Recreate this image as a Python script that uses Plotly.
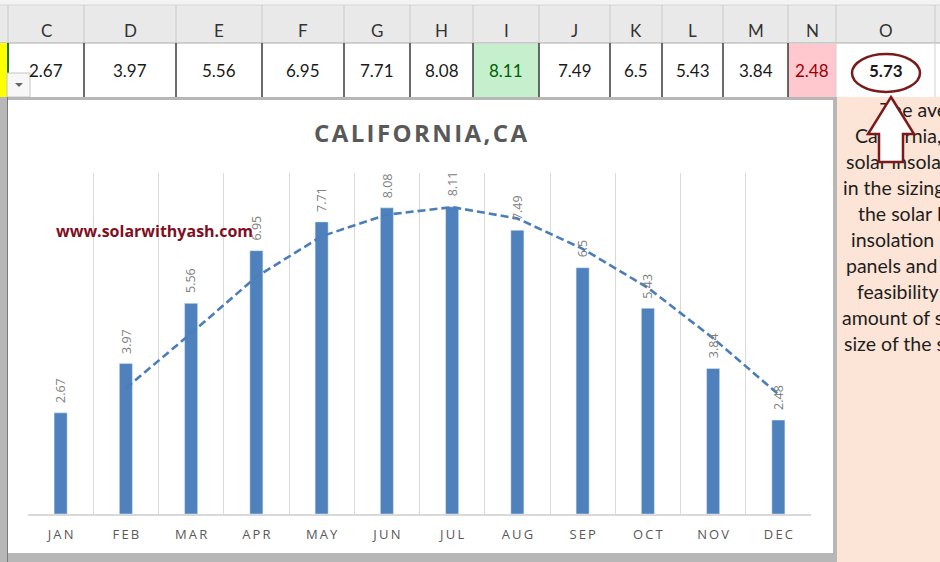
import plotly.graph_objects as go

# ---------------- data ----------------
months = ["JAN", "FEB", "MAR", "APR", "MAY", "JUN", "JUL", "AUG", "SEP", "OCT", "NOV", "DEC"]
insolation = [2.67, 3.97, 5.56, 6.95, 7.71, 8.08, 8.11, 7.49, 6.5, 5.43, 3.84, 2.48]
moving_avg = [None, 3.32, 4.77, 6.26, 7.33, 7.90, 8.10, 7.80, 7.00, 5.97, 4.64, 3.16]
col_letters = ["C", "D", "E", "F", "G", "H", "I", "J", "K", "L", "M", "N", "O"]
average_value = 5.73
note_lines = ["The average", "California, CA", "solar insolation", "in the sizing of",
              "the solar PV", "insolation map", "panels and the", "feasibility of",
              "amount of sun", "size of the system"]

# ---------------- layout helpers (pixel geometry of the screenshot) ----------------
W, H = 940, 562
def px(x):
    return x / W
def py(y):
    return 1 - y / H

col_edges = [8, 84, 176, 262, 344, 410, 473, 539, 610, 662, 723, 788, 836, 935]
note_x = [880, 855, 846, 843, 858, 851, 846, 857, 842, 844]

BAR = "#4f81bd"
fig = go.Figure()

fig.add_trace(go.Bar(x=months, y=insolation, marker_color=BAR, width=0.2,
                     hoverinfo="skip", showlegend=False))
fig.add_trace(go.Scatter(x=months, y=moving_avg, mode="lines",
                         line=dict(color="#4a7ebb", width=2.6, dash="8px,4px"),
                         connectgaps=False, hoverinfo="skip", showlegend=False))
# text in the peach panel (pixel axes so the arrow can sit on top of it)
fig.add_trace(go.Scatter(x=note_x, y=[112 + 26 * i for i in range(len(note_lines))],
                         text=note_lines, mode="text", textposition="middle right",
                         textfont=dict(family="Lato", size=19.5, color="#1e1e1e"),
                         xaxis="x2", yaxis="y2", hoverinfo="skip", showlegend=False))

shapes = []
def rect(x0, y0, x1, y1, fill, line=None, lw=0, layer="below"):
    shapes.append(dict(type="rect", xref="paper", yref="paper",
                       x0=px(x0), x1=px(x1), y0=py(y1), y1=py(y0),
                       fillcolor=fill, line=dict(color=line or fill, width=lw), layer=layer))
def vline(x, y0, y1, color, w=1):
    shapes.append(dict(type="line", xref="paper", yref="paper", x0=px(x), x1=px(x),
                       y0=py(y0), y1=py(y1), line=dict(color=color, width=w), layer="below"))
def hline(y, x0, x1, color, w=1):
    shapes.append(dict(type="line", xref="paper", yref="paper", x0=px(x0), x1=px(x1),
                       y0=py(y), y1=py(y), line=dict(color=color, width=w), layer="below"))

# header strip + header row
rect(0, 0, W, 5, "#f3f3f3")
rect(0, 5, W, 43, "#e9e9e9")
hline(5, 0, W, "#d6d6d6")
hline(43, 0, W, "#ababab")
for x in col_edges:
    vline(x, 5, 43, "#c9c9c9")
# value row
rect(0, 43, 8, 97, "#ffff00")
ci = col_letters.index("I")
cn = col_letters.index("N")
rect(col_edges[ci], 44, col_edges[ci + 1], 97, "#c6efce")
rect(col_edges[cn], 44, col_edges[cn + 1], 97, "#ffc7ce")
for i, x in enumerate(col_edges):
    dark = x not in (836, 935)
    vline(x, 43, 97, "#3a3a3a" if dark else "#d0d0d0", 1.5 if dark else 1)
vline(8, 43, 97, "#217346", 2)
# dropdown button
rect(7, 73, 30, 97, "#f7f7f7", "#c4c4c4", 1)
shapes.append(dict(type="path", xref="paper", yref="paper",
                   path=f"M {px(15)},{py(83)} L {px(23)},{py(83)} L {px(19)},{py(87)} Z",
                   fillcolor="#666666", line=dict(width=0), layer="below"))
# chart selection hatch border + chart area
rect(0, 97, 837, H, "#b7b7b7")
rect(837, 97, W, H, "#fce4d6")
rect(8, 100, 833, 553, "#ffffff")
vline(7.5, 97, H, "#7a7a7a", 1)

# oval + arrow on top
shapes.append(dict(type="circle", xref="x2", yref="y2", x0=852, x1=920, y0=54, y1=92,
                   line=dict(color="#7b1a1a", width=2.5), layer="above"))
shapes.append(dict(type="path", xref="x2", yref="y2",
                   path="M 891,97 L 914,134 L 903,134 L 903,162 L 879,162 L 879,134 L 868,134 Z",
                   fillcolor="#ffffff", line=dict(color="#7b1a1a", width=2.5), layer="above"))

annotations = []
def text(x, y, s, size=17, color="#2b2b2b", family="Lato", **kw):
    annotations.append(dict(xref="paper", yref="paper", x=px(x), y=py(y), text=s,
                            showarrow=False, xanchor="center", yanchor="middle",
                            font=dict(family=family, size=size, color=color), **kw))

row_vals = insolation + [average_value]
for i, letter in enumerate(col_letters):
    cx = (col_edges[i] + col_edges[i + 1]) / 2
    text(cx, 31, letter, size=17, color="#333333")
    color = "#1a1a1a"
    if i == ci:
        color = "#006100"
    elif i == cn:
        color = "#9c0006"
    s = str(row_vals[i])
    if letter == "O":
        s = f"<b>{s}</b>"
    text(cx, 71, s, size=17, color=color)

# chart title and watermark
text(420, 132, "<b>" + "\u200a".join("CALIFORNIA,CA") + "</b>", size=24,
     color="#595959", family="Open Sans")
annotations.append(dict(xref="paper", yref="paper", x=px(54), y=py(231),
                        text="<b>www.solarwithyash.com</b>", showarrow=False,
                        xanchor="left", yanchor="middle",
                        font=dict(family="Open Sans", size=16, color="#7f0f1f")))

# data labels
for m, v in zip(months, insolation):
    annotations.append(dict(x=m, y=v, xref="x", yref="y", text=str(v), showarrow=False,
                            textangle=-90, xanchor="center", yanchor="bottom", yshift=8,
                            font=dict(family="Open Sans", size=12.5, color="#808080")))

fig.update_layout(
    width=W, height=H, margin=dict(l=0, r=0, t=0, b=0),
    paper_bgcolor="#ffffff", plot_bgcolor="rgba(0,0,0,0)",
    shapes=shapes, annotations=annotations, bargap=0.8,
    xaxis=dict(domain=[px(28), px(811)], range=[-0.5, 11.5], type="category",
               tickson="boundaries", showgrid=True, gridcolor="#d9d9d9", gridwidth=1,
               showline=True, linecolor="#d9d9d9", linewidth=1.5, ticks="",
               ticktext=["\u2009".join(m) for m in months], tickvals=months,
               tickfont=dict(family="Open Sans", size=13, color="#595959"),
               ticklabelstandoff=8, fixedrange=True),
    yaxis=dict(domain=[py(514), py(173)], range=[0, 9], showgrid=False, zeroline=False,
               showticklabels=False, showline=False, fixedrange=True),
    xaxis2=dict(domain=[0, 1], range=[0, W], visible=False, anchor="y2", fixedrange=True),
    yaxis2=dict(domain=[0, 1], range=[H, 0], visible=False, anchor="x2", fixedrange=True),
)

fig.write_html("out.html")
